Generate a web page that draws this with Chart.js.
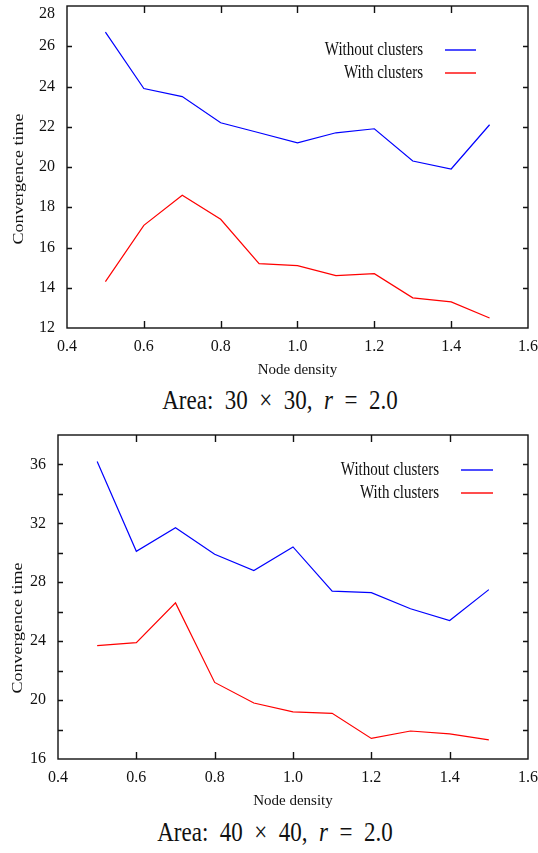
<!DOCTYPE html>
<html>
<head>
<meta charset="utf-8">
<script src="https://cdn.jsdelivr.net/npm/chart.js@4.4.0/dist/chart.umd.min.js"></script>
<style>
  body { margin: 0; background: #fff; width: 538px; height: 853px; position: relative; overflow: hidden; }
  canvas { position: absolute; left: 0; }
  #c1 { top: 0; }
  #c2 { top: 429px; }
  .caption { position: absolute; left: 0; font-family: "Liberation Serif", serif; font-size: 23px; line-height: 1; text-align: center; color: #111; transform: scaleY(1.15); white-space: pre; }
  .caption i { font-style: italic; }
</style>
</head>
<body>
<canvas id="c1" width="538" height="385"></canvas>
<canvas id="c2" width="538" height="387"></canvas>
<div class="caption" id="cap1" style="top:389px;width:560px">Area:  30  ×  30,  <i>r</i>  =  2.0</div>
<div class="caption" id="cap2" style="top:821px;width:550px">Area:  40  ×  40,  <i>r</i>  =  2.0</div>
<script>
// ==================== DATA ====================
const density = [0.5, 0.6, 0.7, 0.8, 0.9, 1.0, 1.1, 1.2, 1.3, 1.4, 1.5];

// Area 30 x 30
const small_without = [26.7, 23.9, 23.5, 22.2, 21.7, 21.2, 21.7, 21.9, 20.3, 19.9, 22.1];
const small_with    = [14.3, 17.1, 18.6, 17.4, 15.2, 15.1, 14.6, 14.7, 13.5, 13.3, 12.5];

// Area 40 x 40
const large_without = [36.2, 30.1, 31.7, 29.9, 28.8, 30.4, 27.4, 27.3, 26.2, 25.4, 27.5];
const large_with    = [23.7, 23.9, 26.6, 21.2, 19.8, 19.2, 19.1, 17.4, 17.9, 17.7, 17.3];

const seriesNames = ["Without clusters", "With clusters"];
const xTicks = [0.4, 0.6, 0.8, 1.0, 1.2, 1.4, 1.6];
const smallYTicks = [12, 14, 16, 18, 20, 22, 24, 26, 28];
const largeYTicks = [16, 18, 20, 22, 24, 26, 28, 30, 32, 34, 36, 38];
const largeYLabels = [16, 20, 24, 28, 32, 36];

const FONT = "Liberation Serif";
const INK = "#111";

// ==================== HELPERS ====================
const toPoints = (ys) => density.map((x, i) => ({ x, y: ys[i] }));

// gnuplot-like frame: box, inward ticks, key, rotated y title
const gnuFrame = {
  id: "gnuFrame",
  afterDraw(chart, args, opts) {
    const { ctx, chartArea: a, scales } = chart;
    ctx.save();
    ctx.strokeStyle = INK;
    ctx.lineWidth = 1.4;
    ctx.strokeRect(a.left, a.top, a.right - a.left, a.bottom - a.top);

    ctx.beginPath();
    scales.x.ticks.forEach(t => {
      if (t.value <= scales.x.min || t.value >= scales.x.max) return;
      const px = Math.round(scales.x.getPixelForValue(t.value)) + 0.5;
      ctx.moveTo(px, a.bottom); ctx.lineTo(px, a.bottom - 7);
      ctx.moveTo(px, a.top); ctx.lineTo(px, a.top + 7);
    });
    scales.y.ticks.forEach(t => {
      if (t.value <= scales.y.min || t.value >= scales.y.max) return;
      const py = Math.round(scales.y.getPixelForValue(t.value)) + 0.5;
      ctx.moveTo(a.left, py); ctx.lineTo(a.left + 5, py);
      ctx.moveTo(a.right, py); ctx.lineTo(a.right - 5, py);
    });
    ctx.stroke();

    // key
    const k = opts.key;
    ctx.font = `15px "${FONT}"`;
    ctx.textAlign = "right";
    ctx.textBaseline = "middle";
    chart.data.datasets.forEach((ds, i) => {
      const y = a.top + k.rows[i];
      ctx.save();
      ctx.translate(a.right + k.textRight, y);
      ctx.scale(1, 1.2);
      ctx.fillStyle = INK;
      ctx.fillText(ds.label, 0, 0);
      ctx.restore();
      ctx.beginPath();
      ctx.strokeStyle = ds.borderColor;
      ctx.lineWidth = 1.4;
      ctx.moveTo(a.right + k.lineFrom, y);
      ctx.lineTo(a.right + k.lineTo, y);
      ctx.stroke();
    });

    // y title
    ctx.save();
    ctx.translate(opts.yTitle.x, (a.top + a.bottom) / 2 + opts.yTitle.dy);
    ctx.rotate(-Math.PI / 2);
    ctx.scale(1.2, 1);
    ctx.fillStyle = INK;
    ctx.textAlign = "center";
    ctx.textBaseline = "middle";
    ctx.font = `15px "${FONT}"`;
    ctx.fillText("Convergence time", 0, 0);
    ctx.restore();

    ctx.restore();
  }
};

function makeChart(id, withoutVals, withVals, cfg) {
  return new Chart(document.getElementById(id), {
    type: "line",
    data: {
      datasets: [
        { label: seriesNames[0], data: toPoints(withoutVals), borderColor: "#0000ff", borderWidth: 1.2, pointRadius: 0, tension: 0, fill: false },
        { label: seriesNames[1], data: toPoints(withVals), borderColor: "#ff0000", borderWidth: 1.2, pointRadius: 0, tension: 0, fill: false }
      ]
    },
    options: {
      responsive: false,
      animation: false,
      devicePixelRatio: 1,
      layout: { padding: { top: 6, right: 10, bottom: 6, left: 0 } },
      plugins: {
        legend: { display: false },
        tooltip: { enabled: false },
        gnuFrame: { key: cfg.key, yTitle: cfg.yTitle }
      },
      scales: {
        x: {
          type: "linear",
          min: 0.4, max: 1.6,
          afterBuildTicks: s => { s.ticks = xTicks.map(v => ({ value: v })); },
          afterFit: s => { s.height = 51; s.paddingLeft = 0; s.paddingRight = 0; },
          grid: { display: false, drawTicks: false },
          border: { display: false },
          ticks: { padding: 9, color: INK, font: { family: FONT, size: 16 }, callback: v => Number(v).toFixed(1) },
          title: { display: true, text: "Node density", color: INK, padding: 0, font: { family: FONT, size: 15, lineHeight: 1.2 } }
        },
        y: {
          min: cfg.yMin, max: cfg.yMax,
          afterBuildTicks: s => { s.ticks = cfg.yTicks.map(v => ({ value: v })); },
          afterFit: s => { s.width = cfg.yWidth; s.paddingTop = 0; s.paddingBottom = 0; },
          grid: { display: false, drawTicks: false },
          border: { display: false },
          ticks: { padding: 12, color: INK, font: { family: FONT, size: 16, lineHeight: 1.0 }, callback: cfg.yLabel }
        }
      }
    },
    plugins: [gnuFrame]
  });
}

// ==================== INIT ====================
const smallTop = smallYTicks[smallYTicks.length - 1];
makeChart("c1", small_without, small_with, {
  yMin: 12, yMax: 28, yTicks: smallYTicks, yWidth: 67,
  // top label sits a line lower so it stays inside the picture
  yLabel: v => v === smallTop ? ["", String(v)] : String(v),
  key: { textRight: -105, lineFrom: -83, lineTo: -52, rows: [44, 67] },
  yTitle: { x: 19, dy: 12 }
});

makeChart("c2", large_without, large_with, {
  yMin: 16, yMax: 38, yTicks: largeYTicks, yWidth: 58,
  yLabel: v => largeYLabels.includes(v) ? String(v) : "",
  key: { textRight: -89, lineFrom: -67, lineTo: -35, rows: [35, 58] },
  yTitle: { x: 18, dy: 31 }
});
</script>
</body>
</html>
